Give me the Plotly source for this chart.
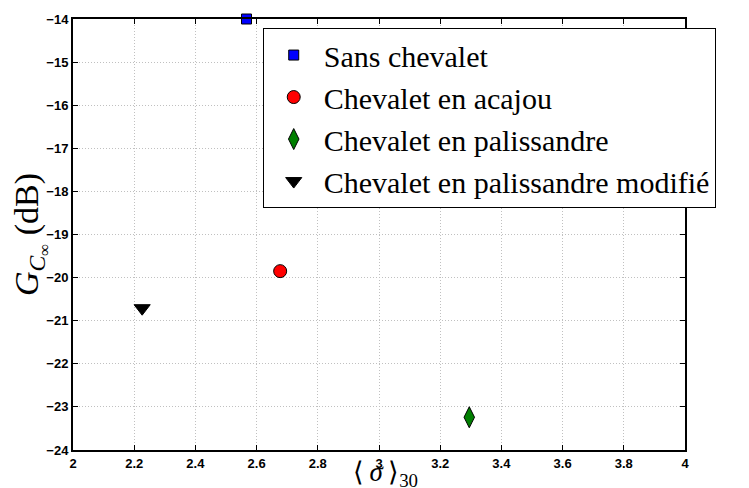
import plotly.graph_objects as go

series_names = ["Sans chevalet", "Chevalet en acajou", "Chevalet en palissandre",
                "Chevalet en palissandre modifié"]
sigma30 = [2.567, 2.677, 3.295, 2.226]
gc_inf = [-14.0, -19.85, -23.24, -20.71]
marker_symbols = ["square", "circle", "diamond-tall", "triangle-down"]
marker_colors = ["#0000ff", "#ff0000", "#007f00", "#000000"]
marker_sizes = [10, 13, 15, 14]

x_ticks = [2, 2.2, 2.4, 2.6, 2.8, 3, 3.2, 3.4, 3.6, 3.8, 4]
x_ticklabels = ["2", "2.2", "2.4", "2.6", "2.8", "3", "3.2", "3.4", "3.6", "3.8", "4"]
y_ticks = list(range(-24, -13))
x_title = "⟨\u2009<i>σ</i>\u2009⟩<sub>30</sub>"
y_title = "<i>G</i><sub><i>C</i><sub>∞</sub></sub> (dB)"

fig = go.Figure()
for i, name in enumerate(series_names):
    fig.add_trace(go.Scatter(
        x=[sigma30[i]], y=[gc_inf[i]], mode="markers", name=name,
        marker=dict(symbol=marker_symbols[i], color=marker_colors[i], size=marker_sizes[i],
                    line=dict(color="black", width=1)),
        cliponaxis=False,
    ))

axis_common = dict(
    showline=True, linecolor="black", linewidth=2, mirror="allticks",
    ticks="inside", ticklen=5, tickcolor="black", tickwidth=1,
    showgrid=True, gridcolor="#c0c0c0", griddash="1px,2px", gridwidth=1,
    zeroline=False,
    tickfont=dict(family="Liberation Sans", size=13, color="black", weight="bold"),
)

fig.update_layout(
    width=749, height=488,
    margin=dict(l=65, r=72, t=11, b=46, autoexpand=False),
    paper_bgcolor="white", plot_bgcolor="white",
    xaxis=dict(range=[2, 4], tickvals=x_ticks, ticktext=x_ticklabels, **axis_common),
    yaxis=dict(range=[-24, -14], tickvals=y_ticks,
               title=dict(text=y_title, standoff=4,
                          font=dict(family="Liberation Serif", size=34, color="black")),
               **axis_common),
    showlegend=True,
    legend=dict(x=0.31, xanchor="left", y=0.979, yanchor="top",
                bgcolor="white", bordercolor="black", borderwidth=1,
                font=dict(family="Liberation Serif", size=30, color="black"),
                itemsizing="trace", itemwidth=50),
    annotations=[dict(text=x_title, xref="paper", yref="paper", x=0.511, y=-0.012,
                      xanchor="center", yanchor="top", showarrow=False,
                      font=dict(family="Liberation Serif", size=27, color="black"))],
)

fig.write_html("out.html")
